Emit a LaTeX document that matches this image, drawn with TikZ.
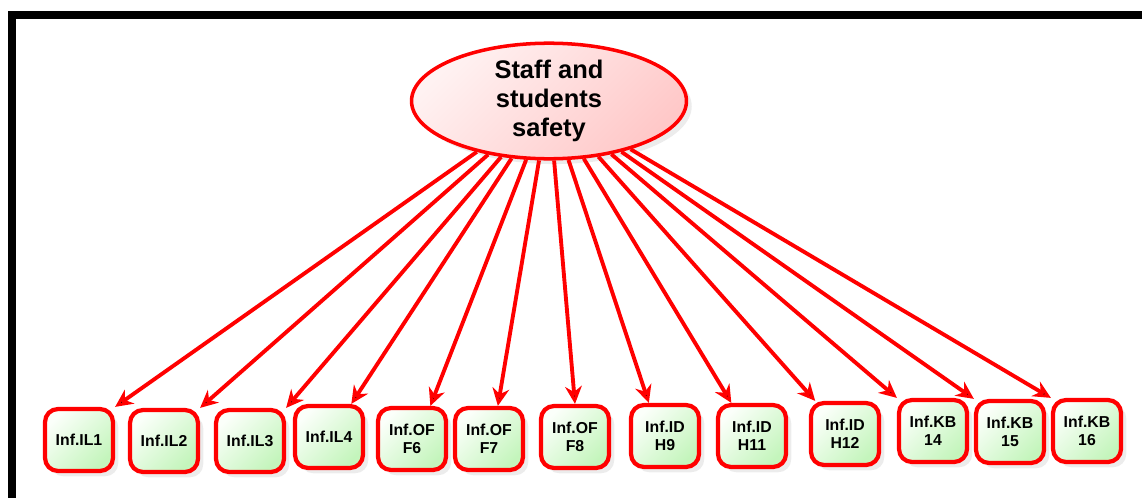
\documentclass[tikz,border=0pt]{standalone}
\usepackage{fontspec}
\setmainfont{Liberation Sans}
\usetikzlibrary{shapes.geometric, arrows.meta, shadows}
\definecolor{pinklight}{HTML}{FFF2F2}
\definecolor{pinkdark}{HTML}{FFC8C8}
\definecolor{greenlight}{HTML}{FBFFFA}
\definecolor{greendark}{HTML}{C4F5BC}

\begin{document}
\begin{tikzpicture}[x=0.02cm, y=-0.02cm,
        goal/.style = {draw=red, ellipse, line width=2pt, minimum width=5.5cm, minimum height=2.18cm,
                inner sep=0pt, align=center, font=\fontsize{14.5}{16.5}\selectfont\bfseries,
                top color=pinklight, bottom color=pinkdark, shading angle=45,
                drop shadow={opacity=0.15, shadow xshift=3pt, shadow yshift=-3pt}},
        item/.style = {draw=red, rectangle, rounded corners=0.26cm, line width=2.4pt,
                minimum width=1.36cm, minimum height=1.24cm, inner sep=0pt, align=center,
                font=\fontsize{9}{10}\selectfont\bfseries,
                top color=greenlight, bottom color=greendark, shading angle=45,
                drop shadow={opacity=0.15, shadow xshift=3pt, shadow yshift=-3pt}} ]
        \useasboundingbox (0, 0) rectangle (1142, 497);
        \draw[line width=4.5pt, line join=miter] (12, 510) -- (12, 15) -- (1150, 15);

        \node at (549, 101) [goal] (0) {Staff and\\students\\safety};

        \node at (79, 440) [item] (1) {Inf.IL1};
        \node at (164, 441) [item] (2) {Inf.IL2};
        \node at (250, 441) [item] (3) {Inf.IL3};
        \node at (329, 437) [item] (4) {Inf.IL4};
        \node at (412, 439) [item] (5) {Inf.OF\\F6};
        \node at (489, 439) [item] (6) {Inf.OF\\F7};
        \node at (575, 437) [item] (7) {Inf.OF\\F8};
        \node at (665, 436) [item] (8) {Inf.ID\\H9};
        \node at (752, 436) [item] (9) {Inf.ID\\H11};
        \node at (845, 434) [item] (10) {Inf.ID\\H12};
        \node at (933, 431) [item] (11) {Inf.KB\\14};
        \node at (1010, 432) [item] (12) {Inf.KB\\15};
        \node at (1087, 431) [item] (13) {Inf.KB\\16};

        \path[-{Stealth[length=10pt, width=9.5pt]}, draw=red, line width=2.2pt]
        (0) edge (1.north east)
        (0) edge (2.north east)
        (0) edge (3.north east)
        (0) edge (4.56)
        (0) edge (5.61)
        (0) edge (6.75)
        (0) edge (7.north)
        (0) edge (8.116)
        (0) edge (9.122)
        (0) edge (10.132)
        (0) edge (11.north west)
        (0) edge (12.north west)
        (0) edge (13.north west);

    \end{tikzpicture}
\end{document}
